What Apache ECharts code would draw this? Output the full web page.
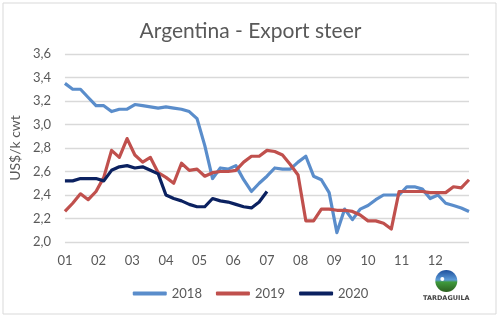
<!DOCTYPE html>
<html>
<head>
<meta charset="utf-8">
<script src="https://cdn.jsdelivr.net/npm/echarts@6/dist/echarts.min.js"></script>
<style>
  html, body { margin: 0; padding: 0; background: #ffffff; }
  #chart { width: 501px; height: 322px; }
</style>
</head>
<body>
<div id="chart"></div>
<script>
// Weekly export steer price, US$ per kg carcass weight
const monthLabels = ['01','02','03','04','05','06','07','08','09','10','11','12'];
const yTicks = [2.0, 2.2, 2.4, 2.6, 2.8, 3.0, 3.2, 3.4, 3.6];
const weeksPerYear = 52;

const price2018 = [
  3.35, 3.30, 3.30, 3.23, 3.16, 3.16, 3.11, 3.13, 3.13, 3.17,
  3.16, 3.15, 3.14, 3.15, 3.14, 3.13, 3.11, 3.05, 2.82, 2.54,
  2.63, 2.62, 2.65, 2.53, 2.43, 2.50, 2.56, 2.63, 2.62, 2.62,
  2.68, 2.73, 2.56, 2.53, 2.42, 2.08, 2.28, 2.19, 2.28, 2.31,
  2.36, 2.40, 2.40, 2.40, 2.47, 2.47, 2.45, 2.37, 2.40, 2.33,
  2.31, 2.29, 2.26
];
const price2019 = [
  2.26, 2.33, 2.41, 2.36, 2.43, 2.55, 2.78, 2.72, 2.88, 2.74,
  2.68, 2.72, 2.59, 2.55, 2.50, 2.67, 2.61, 2.62, 2.56, 2.59,
  2.60, 2.60, 2.61, 2.68, 2.73, 2.73, 2.78, 2.77, 2.74, 2.66,
  2.57, 2.18, 2.18, 2.28, 2.28, 2.27, 2.27, 2.26, 2.23, 2.18,
  2.18, 2.16, 2.11, 2.43, 2.43, 2.43, 2.43, 2.42, 2.42, 2.42,
  2.47, 2.46, 2.53
];
const price2020 = [
  2.52, 2.52, 2.54, 2.54, 2.54, 2.52, 2.61, 2.64, 2.65, 2.63,
  2.64, 2.61, 2.58, 2.40, 2.37, 2.35, 2.32, 2.30, 2.30, 2.37,
  2.35, 2.34, 2.32, 2.30, 2.29, 2.34, 2.43
];

const seriesNames = ['2018', '2019', '2020'];
const seriesColors = ['#5a8dcb', '#c0504d', '#0b2160'];
const seriesValues = [price2018, price2019, price2020];

// place each weekly value on a month scale (0 = start of January)
const toPoints = vals => vals.map((v, i) => [i * 12 / weeksPerYear, v]);

const FONT = 'Lato, "Open Sans", sans-serif';
const TXT = '#595959';

const chart = echarts.init(document.getElementById('chart'), null, { renderer: 'canvas' });
chart.setOption({
  backgroundColor: '#ffffff',
  animation: false,
  title: {
    text: 'Argentina - Export steer',
    left: 'center',
    top: 16,
    textStyle: { fontFamily: FONT, fontSize: 21, fontWeight: 'normal', color: TXT }
  },
  legend: {
    data: seriesNames,
    left: 'center',
    top: 282,
    icon: 'roundRect',
    itemWidth: 34,
    itemHeight: 4,
    itemGap: 14,
    textStyle: { fontFamily: FONT, fontSize: 13, color: TXT }
  },
  grid: { left: 56, right: 32, top: 54, bottom: 80 },
  xAxis: {
    type: 'value',
    min: 0,
    max: 12,
    interval: 1,
    axisLine: { show: false },
    axisTick: { show: false },
    splitLine: { show: false },
    axisLabel: {
      margin: 12,
      hideOverlap: false,
      fontFamily: FONT, fontSize: 13, color: TXT,
      formatter: v => (Math.round(v) < 12 ? monthLabels[Math.round(v)] : '')
    }
  },
  yAxis: {
    type: 'value',
    min: yTicks[0],
    max: yTicks[yTicks.length - 1],
    interval: 0.2,
    name: 'US$/k cwt',
    nameLocation: 'middle',
    nameGap: 35,
    nameTextStyle: { fontFamily: FONT, fontSize: 14, color: TXT },
    axisLine: { show: false },
    axisTick: { show: false },
    splitLine: { lineStyle: { color: '#d9d9d9', width: 1.3 } },
    axisLabel: {
      margin: 14,
      fontFamily: FONT, fontSize: 13, color: TXT,
      formatter: v => v.toFixed(1).replace('.', ',')
    }
  },
  series: seriesNames.map((name, k) => ({
    name: name,
    type: 'line',
    data: toPoints(seriesValues[k]),
    symbol: 'none',
    smooth: false,
    lineStyle: { color: seriesColors[k], width: 3.2, join: 'round' },
    itemStyle: { color: seriesColors[k] }
  })),
  graphic: [
    {
      type: 'rect',
      shape: { x: 3, y: 3, width: 493, height: 311 },
      style: { fill: 'none', stroke: '#d9d9d9', lineWidth: 1 },
      silent: true
    },
    {
      type: 'group',
      left: 423,
      top: 270,
      children: [
        {
          type: 'circle',
          shape: { cx: 24, cy: 11, r: 11 },
          style: {
            fill: new echarts.graphic.LinearGradient(0, 0, 0, 1, [
              { offset: 0, color: '#1d4f9c' },
              { offset: 0.45, color: '#5d9bd8' },
              { offset: 0.55, color: '#3f9a3c' },
              { offset: 1, color: '#2c5f1f' }
            ])
          }
        },
        {
          type: 'circle',
          shape: { cx: 20, cy: 9, r: 2 },
          style: { fill: '#ffffff' }
        },
        {
          type: 'text',
          style: {
            text: 'TARDAGUILA',
            x: 24, y: 25,
            align: 'center',
            fontFamily: 'DejaVu Sans, sans-serif',
            fontSize: 6.5,
            fontWeight: 'bold',
            fill: '#444444'
          }
        }
      ]
    }
  ]
});
</script>
</body>
</html>
